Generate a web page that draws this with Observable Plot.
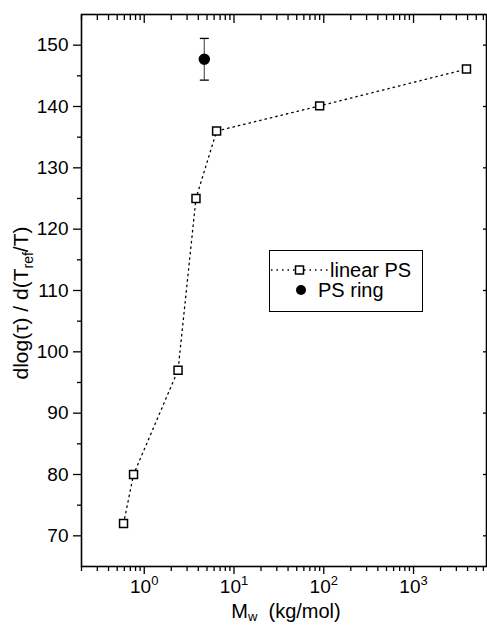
<!DOCTYPE html>
<html><head><meta charset="utf-8">
<script src="https://cdn.jsdelivr.net/npm/d3@7"></script>
<script src="https://cdn.jsdelivr.net/npm/@observablehq/plot@0.6"></script>
<style>
html,body{margin:0;padding:0;background:#fff;}
#wrap{position:relative;width:487px;height:625px;font-family:"Liberation Sans",Arial,sans-serif;color:#000;}
#legend{position:absolute;left:269px;top:250px;width:152px;height:60px;border:1.3px solid #000;background:#fff;font-size:20px;}
#legend .row{position:absolute;left:0;height:20px;line-height:20px;white-space:nowrap;}
#legend svg{position:absolute;top:0;left:0;}
#legend span{position:absolute;top:0;}
</style></head><body>
<div id="wrap"></div>
<script>
// linear PS data
const linearMw = [0.588, 0.76, 2.38, 3.77, 6.4, 90, 3890];
const linearSlope = [72, 80, 97, 125, 136, 140.1, 146.1];
// PS ring data
const ringMw = [4.67];
const ringSlope = [147.7];
const ringErr = [3.4];
// axis ticks
const xMajor = [1, 10, 100, 1000];
const xMinor = [];
[0.1, 1, 10, 100, 1000].forEach(p => { for (let k = 2; k <= 9; k++) { const v = k * p; if (v >= 0.2 && v <= 6500) xMinor.push(v); } });
const yMajor = [70, 80, 90, 100, 110, 120, 130, 140, 150];
const yMinor = [75, 85, 95, 105, 115, 125, 135, 145];

const linear = linearMw.map((m, i) => ({mw: m, s: linearSlope[i]}));
const ring = ringMw.map((m, i) => ({mw: m, s: ringSlope[i], lo: ringSlope[i] - ringErr[i], hi: ringSlope[i] + ringErr[i]}));

const capSymbol = {draw(ctx) { ctx.moveTo(-4.5, 0); ctx.lineTo(4.5, 0); }};

const chart = Plot.plot({
  width: 487, height: 625,
  marginLeft: 81, marginRight: 1, marginTop: 14, marginBottom: 59,
  style: {fontFamily: '"Liberation Sans", Arial, sans-serif', fontSize: "19px", background: "#fff", color: "#000"},
  x: {type: "log", domain: [0.2, 6500]},
  y: {domain: [65, 155]},
  marks: [
    Plot.axisX(xMajor, {anchor: "bottom", tickSize: 8, tickPadding: 5, strokeWidth: 1.3, fontSize: 19, tickFormat: d => "10^" + Math.round(Math.log10(d)), label: null}),
    Plot.axisX(xMinor, {anchor: "bottom", tickSize: 5, text: null, strokeWidth: 1.3, label: null}),
    Plot.axisX(xMajor, {anchor: "top", tickSize: -8, text: null, strokeWidth: 1.3, label: null}),
    Plot.axisX(xMinor, {anchor: "top", tickSize: -5, text: null, strokeWidth: 1.3, label: null}),
    Plot.axisY(yMajor, {anchor: "left", tickSize: 8, tickPadding: 5, strokeWidth: 1.3, fontSize: 19, label: null}),
    Plot.axisY(yMinor, {anchor: "left", tickSize: 4, text: null, strokeWidth: 1.3, label: null}),
    Plot.axisY(yMajor, {anchor: "right", tickSize: -4, text: null, strokeWidth: 1.3, label: null}),
    Plot.frame({stroke: "#000", strokeWidth: 1.6}),
    Plot.line(linear, {x: "mw", y: "s", stroke: "#000", strokeWidth: 1.3, strokeDasharray: "1.5,4"}),
    Plot.dot(linear, {x: "mw", y: "s", symbol: "square", r: 4.5, fill: "#fff", stroke: "#000", strokeWidth: 1.5}),
    Plot.ruleX(ring, {x: "mw", y1: "lo", y2: "hi", stroke: "#666", strokeWidth: 1.3}),
    Plot.dot(ring, {x: "mw", y: "lo", symbol: capSymbol, stroke: "#000", strokeWidth: 1.3}),
    Plot.dot(ring, {x: "mw", y: "hi", symbol: capSymbol, stroke: "#000", strokeWidth: 1.3}),
    Plot.dot(ring, {x: "mw", y: "s", r: 5, fill: "#000", stroke: "#000"})
  ]
});

const ns = "http://www.w3.org/2000/svg";
chart.querySelectorAll('g[aria-label="x-axis tick label"] text').forEach(t => {
  const m = t.textContent.match(/^10\^(-?\d+)$/);
  if (m) {
    t.textContent = "10";
    const ts = document.createElementNS(ns, "tspan");
    ts.setAttribute("font-size", "13");
    ts.setAttribute("dy", "-8");
    ts.textContent = m[1];
    t.appendChild(ts);
  }
});

const sel = d3.select(chart);
// x label
const xl = sel.append("text").attr("x", 286).attr("y", 618).attr("text-anchor", "middle")
  .attr("font-size", 20).attr("fill", "#000");
xl.append("tspan").text("M");
xl.append("tspan").attr("font-size", 13).attr("dy", 3).text("w");
xl.append("tspan").attr("dy", -3).text("\u00a0 (kg/mol)");
// y label
const yl = sel.append("text").attr("transform", "translate(28,303) rotate(-90)").attr("text-anchor", "middle")
  .attr("font-size", 21).attr("fill", "#000");
yl.append("tspan").text("dlog(τ) / d(T");
yl.append("tspan").attr("font-size", 14).attr("dy", 5).text("ref");
yl.append("tspan").attr("dy", -5).text("/T)");

const wrap = document.getElementById("wrap");
wrap.appendChild(chart);

// legend
const lg = document.createElement("div");
lg.id = "legend";
lg.innerHTML =
  '<div class="row" style="top:9px;width:152px">' +
    '<svg width="62" height="20"><line x1="1" y1="10" x2="60" y2="10" stroke="#000" stroke-width="1.3" stroke-dasharray="1.5,4"/>' +
    '<rect x="25.5" y="6" width="8" height="8" fill="#fff" stroke="#000" stroke-width="1.5"/></svg>' +
    '<span style="left:60px">linear PS</span></div>' +
  '<div class="row" style="top:29px;width:152px">' +
    '<svg width="46" height="20"><circle cx="31" cy="10" r="5" fill="#000"/></svg>' +
    '<span style="left:48px">PS ring</span></div>';
wrap.appendChild(lg);
</script>
</body></html>
